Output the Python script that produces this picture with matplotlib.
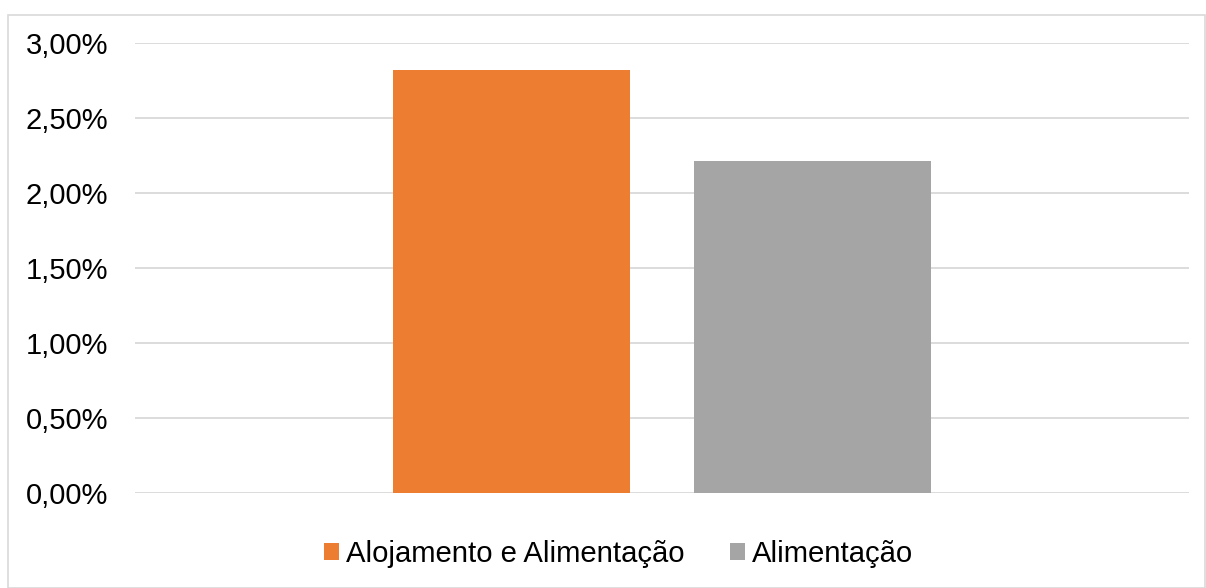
import matplotlib
matplotlib.use("Agg")
import matplotlib.pyplot as plt
from matplotlib.patches import Rectangle
from matplotlib.ticker import FuncFormatter, MultipleLocator

# Data
series_names = ["Alojamento e Alimentação", "Alimentação"]
series_values = [0.0282, 0.0221]
series_colors = ["#ED7D31", "#A5A5A5"]
bar_offsets = [-0.1428, 0.1428]

plt.rcParams["font.family"] = ["Liberation Sans", "DejaVu Sans"]

fig = plt.figure(figsize=(12.06, 5.88), dpi=100)
W, H = 1206, 588

# Outer chart frame
fig.patches.append(Rectangle((8 / W, 0.5 / H), (1205 - 8) / W, (587 - 14) / H,
                             transform=fig.transFigure, fill=False,
                             edgecolor="#d9d9d9", linewidth=1.2))

ax = fig.add_axes([135 / W, 1 - 493 / H, (1189 - 135) / W, (493 - 43) / H])

bars = []
for off, val, col, name in zip(bar_offsets, series_values, series_colors, series_names):
    bars.append(ax.bar(off, val, width=0.225, color=col, label=name, zorder=3))

ax.set_xlim(-0.5, 0.5)
ax.set_ylim(0, 0.03)
ax.yaxis.set_major_locator(MultipleLocator(0.005))
ax.yaxis.set_major_formatter(FuncFormatter(lambda v, p: f"{v * 100:.2f}%".replace(".", ",")))
ax.grid(axis="y", color="#d9d9d9", linewidth=1.3, zorder=0)
ax.set_axisbelow(True)
ax.set_xticks([])
ax.tick_params(axis="y", length=0, pad=19.5, labelsize=21, labelcolor="#000000")
for s in ax.spines.values():
    s.set_visible(False)

fig.legend(handles=[b for b in bars], labels=series_names,
           loc="center", bbox_to_anchor=(0.513, 1 - 554 / H), ncol=2, frameon=False,
           fontsize=21.1, handlelength=0.5, handleheight=0.5, handletextpad=0.25,
           columnspacing=1.55, borderpad=0)

fig.savefig("out.png", dpi=100)
